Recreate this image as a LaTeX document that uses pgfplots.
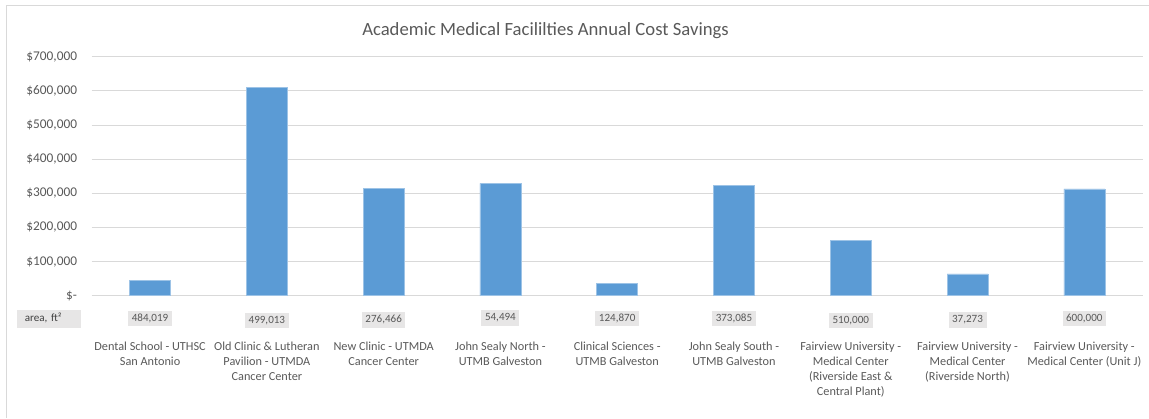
\documentclass[border=0pt]{standalone}
\usepackage{pgfplots}
\pgfplotsset{compat=1.18}
\usepackage{fontspec}
\setmainfont{Carlito}
\definecolor{barblue}{HTML}{5B9BD5}
\definecolor{gridgray}{HTML}{D9D9D9}
\definecolor{txtgray}{HTML}{595959}
\definecolor{boxgray}{HTML}{E7E6E6}
\begin{document}
\begin{tikzpicture}
\begin{axis}[
    at={(0pt,0pt)}, anchor=south west,
    scale only axis,
    width=788.25pt, height=179.25pt,
    xmin=-0.5, xmax=8.5,
    ymin=0, ymax=700000,
    scaled y ticks=false,
    axis line style={draw=none},
    major tick length=0pt,
    ymajorgrids,
    grid style={gridgray, line width=0.75pt},
    xtick={0,...,8},
    xticklabels={
      {Dental School - UTHSC\\San Antonio},
      {Old Clinic \& Lutheran\\Pavilion - UTMDA\\Cancer Center},
      {New Clinic - UTMDA\\Cancer Center},
      {John Sealy North -\\UTMB Galveston},
      {Clinical Sciences -\\UTMB Galveston},
      {John Sealy South -\\UTMB Galveston},
      {Fairview University -\\Medical Center\\(Riverside East \&\\Central Plant)},
      {Fairview University -\\Medical Center\\(Riverside North)},
      {Fairview University -\\Medical Center (Unit J)}},
    xticklabel style={align=center, anchor=north, inner sep=0pt, yshift=-34.3pt,
      text=txtgray, font=\fontsize{9.2}{11.25}\selectfont},
    ytick={0,100000,200000,300000,400000,500000,600000,700000},
    yticklabels={{\$-\hspace{4.7pt}},{\$100,000},{\$200,000},{\$300,000},
      {\$400,000},{\$500,000},{\$600,000},{\$700,000}},
    yticklabel style={anchor=east, inner sep=0pt, xshift=-10.8pt,
      text=txtgray, font=\fontsize{10}{12}\selectfont},
    clip=false,
]
\addplot[ybar, bar width=30.75pt, fill=barblue, draw=barblue!60!white, line width=0.4pt]
  coordinates {(0,44000) (1,610000) (2,315000) (3,329000) (4,36000)
               (5,324000) (6,163000) (7,64000) (8,313000)};

% area row (text boxes below the axis)
\tikzset{areabox/.style={fill=boxgray, text=txtgray, font=\fontsize{8.3}{9}\selectfont,
  inner xsep=2.7pt, inner ysep=2pt, text height=6pt, text depth=1.5pt}}
\node[areabox] at (axis cs:0,0) [yshift=-17pt] {484,019};
\node[areabox] at (axis cs:1,0) [yshift=-18.6pt] {499,013};
\node[areabox] at (axis cs:2,0) [yshift=-18.2pt] {276,466};
\node[areabox] at (axis cs:3,0) [yshift=-16.7pt] {54,494};
\node[areabox] at (axis cs:4,0) [yshift=-17pt] {124,870};
\node[areabox] at (axis cs:5,0) [yshift=-17pt] {373,085};
\node[areabox] at (axis cs:6,0) [yshift=-18.6pt] {510,000};
\node[areabox] at (axis cs:7,0) [yshift=-18.2pt] {37,273};
\node[areabox] at (axis cs:8,0) [yshift=-17pt] {600,000};
\end{axis}

\node[fill=boxgray, text=black!75, font=\fontsize{8.3}{9}\selectfont,
  text width=36.3pt, align=left, inner xsep=6.1pt, inner ysep=0pt,
  minimum height=13.3pt, text height=6pt, text depth=1.5pt]
  at (-32pt,-17.3pt) {area, ft²};

% title
\node[anchor=base, text=txtgray, font=\fontsize{14}{16}\selectfont]
  at (340.35pt,194.8pt) {Academic Medical Facililties Annual Cost Savings};

% chart frame (top and left edges visible)
\draw[gridgray, line width=0.75pt] (-63.9pt,-91.7pt) -- (-63.9pt,217.3pt) -- (793pt,217.3pt);

\pgfresetboundingbox
\path[use as bounding box] (-68.78pt,-91.73pt) rectangle (792.98pt,221.78pt);
\end{tikzpicture}
\end{document}
